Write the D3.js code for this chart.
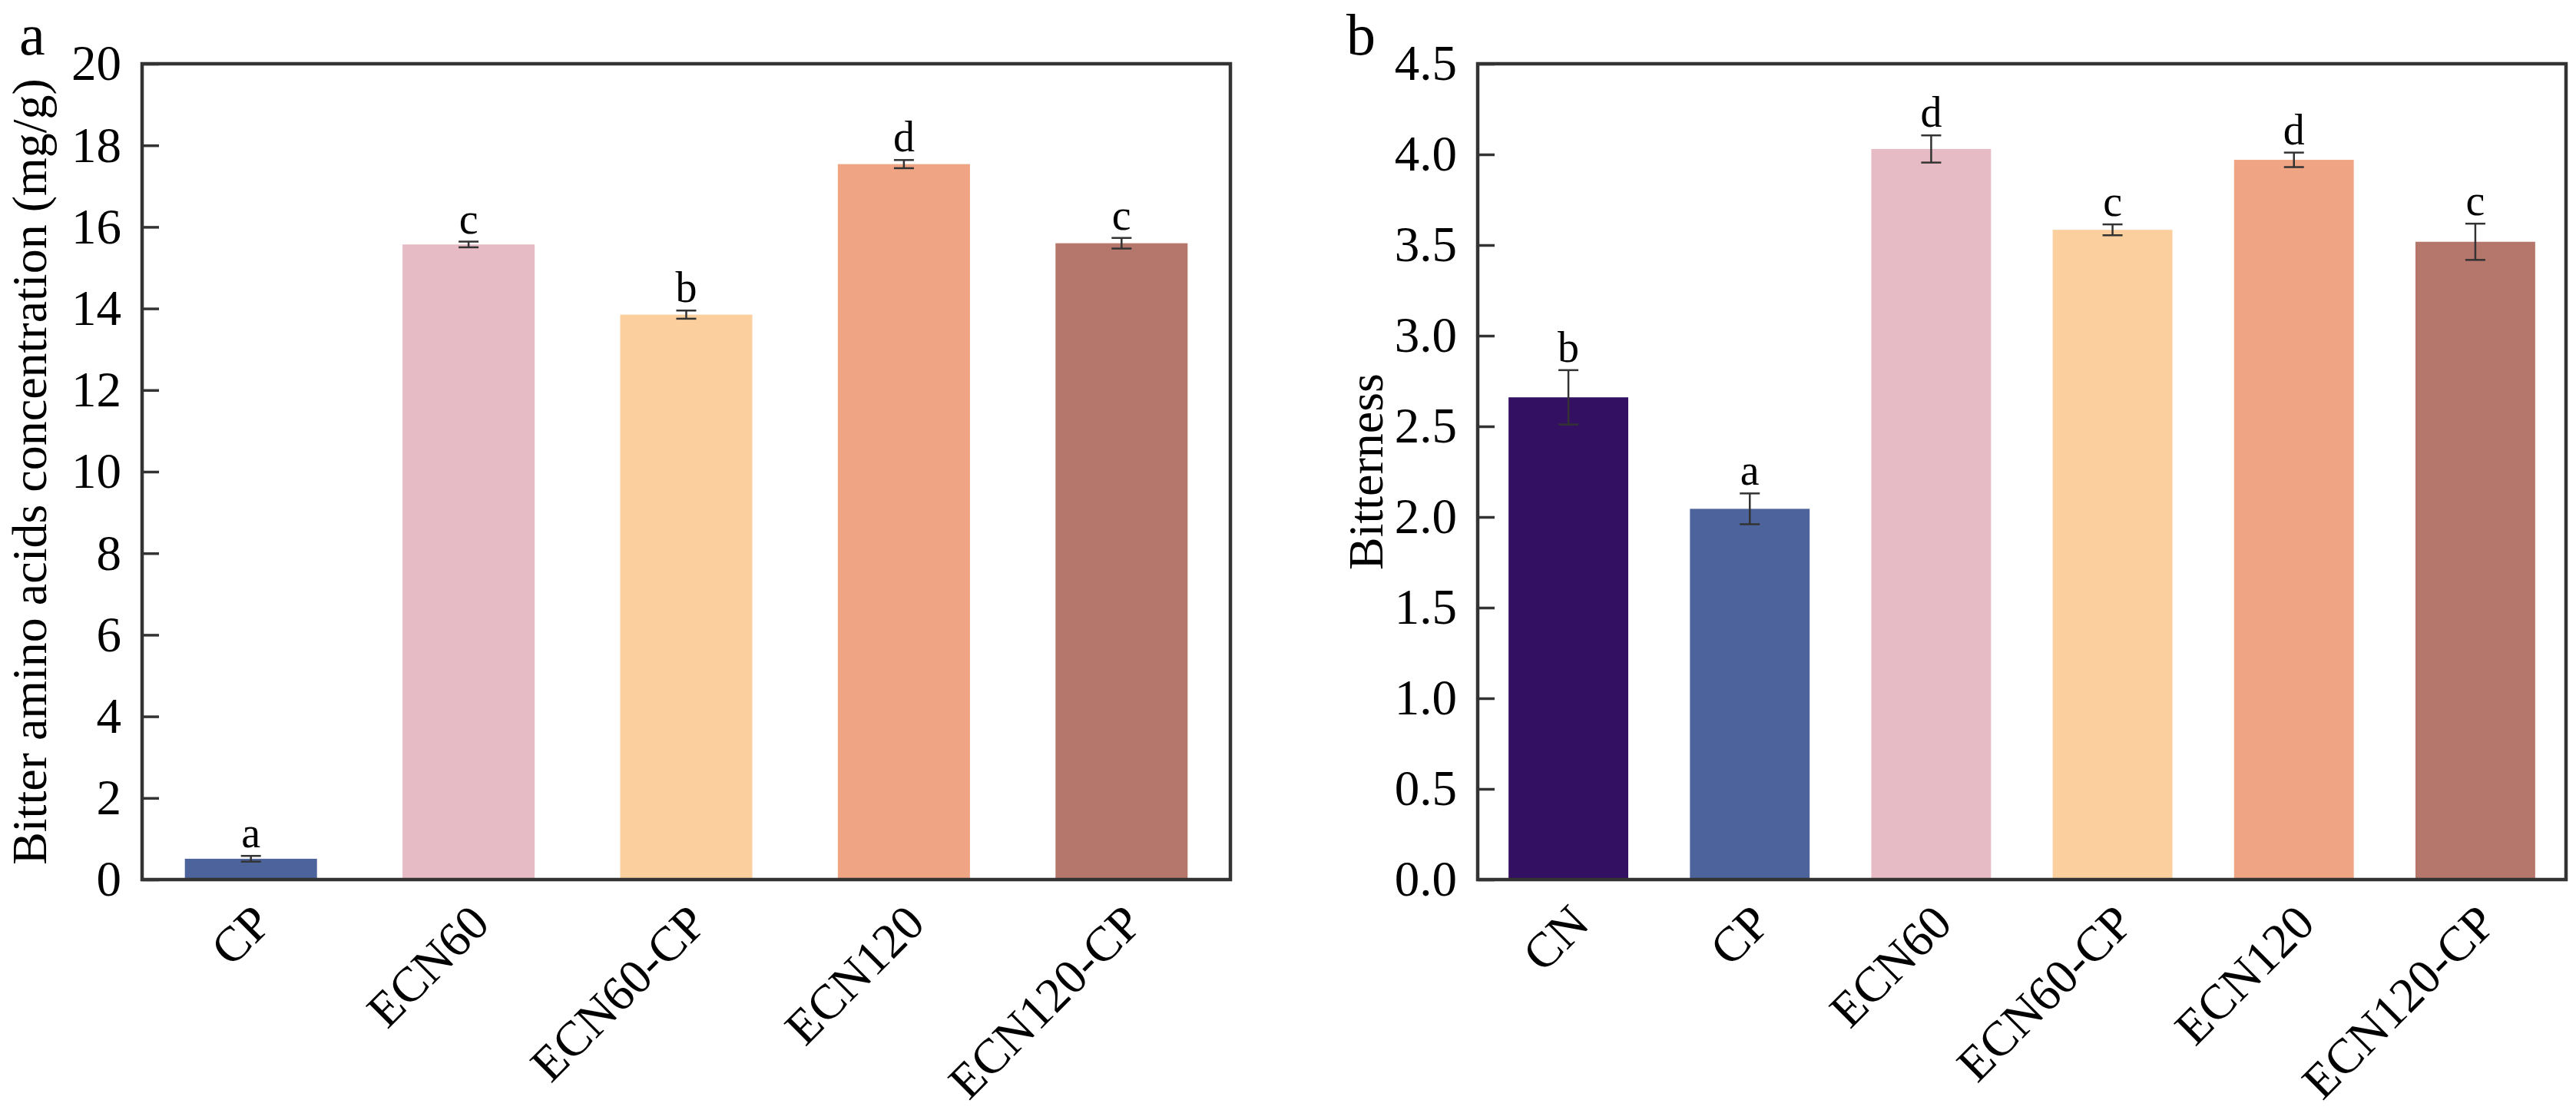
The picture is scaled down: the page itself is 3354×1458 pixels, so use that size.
<!DOCTYPE html>
<html>
<head>
<meta charset="utf-8">
<script src="https://cdn.jsdelivr.net/npm/d3@7"></script>
<style>
  body { margin: 0; background: #fff; }
  text { font-family: "Liberation Serif", "Times New Roman", serif; fill: #000; }
</style>
</head>
<body>
<div id="chart"></div>
<script>
// panel a - bitter amino acids
const groupsA = ["CP", "ECN60", "ECN60-CP", "ECN120", "ECN120-CP"];
const concA = [0.51, 15.57, 13.85, 17.54, 15.6];
const concErrA = [0.07, 0.07, 0.1, 0.1, 0.13];
const lettersA = ["a", "c", "b", "d", "c"];
const ticksA = [0, 2, 4, 6, 8, 10, 12, 14, 16, 18, 20];

// panel b - bitterness
const groupsB = ["CN", "CP", "ECN60", "ECN60-CP", "ECN120", "ECN120-CP"];
const bitterB = [2.66, 2.045, 4.03, 3.584, 3.97, 3.518];
const bitterErrB = [0.15, 0.085, 0.075, 0.03, 0.04, 0.1];
const lettersB = ["b", "a", "d", "c", "d", "c"];
const ticksB = [0, 0.5, 1.0, 1.5, 2.0, 2.5, 3.0, 3.5, 4.0, 4.5];

const palette = d3.scaleOrdinal()
    .domain(["CN", "CP", "ECN60", "ECN60-CP", "ECN120", "ECN120-CP"])
    .range(["#341063", "#4c639b", "#e7bbc5", "#fccf9e", "#efa584", "#b5766b"]);

const W = 3354, H = 1458;
const svg = d3.select("#chart").append("svg")
    .attr("width", W)
    .attr("height", H);

function drawPanel(cfg) {
    const g = svg.append("g")
        .attr("transform", `translate(${cfg.left}, ${cfg.top})`);
    const w = cfg.width, h = cfg.height;

    const x = d3.scaleBand()
        .domain(cfg.groups)
        .range([0, w])
        .paddingInner(cfg.pad)
        .paddingOuter(cfg.pad / 2);

    const y = d3.scaleLinear()
        .domain(cfg.domain)
        .range([h, 0]);

    const rows = cfg.groups.map((k, i) => ({
        key: k, v: cfg.values[i], e: cfg.errors[i], lab: cfg.letters[i]
    }));

    // bars
    g.selectAll("rect.bar")
        .data(rows)
        .enter().append("rect")
        .attr("class", "bar")
        .attr("x", d => x(d.key))
        .attr("width", x.bandwidth())
        .attr("y", d => y(d.v))
        .attr("height", d => h - y(d.v))
        .attr("fill", d => palette(d.key));

    // error bars
    const cap = 13;
    const eb = g.selectAll("g.err")
        .data(rows)
        .enter().append("g")
        .attr("class", "err")
        .attr("transform", d => `translate(${x(d.key) + x.bandwidth() / 2}, 0)`)
        .attr("stroke", "#333")
        .attr("stroke-width", 2.5);
    eb.append("line")
        .attr("y1", d => y(d.v + d.e))
        .attr("y2", d => y(d.v - d.e));
    eb.append("line")
        .attr("x1", -cap).attr("x2", cap)
        .attr("y1", d => y(d.v + d.e))
        .attr("y2", d => y(d.v + d.e));
    eb.append("line")
        .attr("x1", -cap).attr("x2", cap)
        .attr("y1", d => y(d.v - d.e))
        .attr("y2", d => y(d.v - d.e));

    // significance letters
    g.selectAll("text.sig")
        .data(rows)
        .enter().append("text")
        .attr("class", "sig")
        .attr("x", d => x(d.key) + x.bandwidth() / 2)
        .attr("y", d => y(d.v + d.e) - 11)
        .attr("text-anchor", "middle")
        .style("font-size", "56px")
        .text(d => d.lab);

    // y axis, ticks pointing inward
    const yAxis = g.append("g")
        .call(d3.axisLeft(y)
            .tickValues(cfg.ticks)
            .tickFormat(cfg.fmt)
            .tickSize(-22)
            .tickPadding(27));
    yAxis.select(".domain").remove();
    yAxis.selectAll(".tick line")
        .attr("stroke", "#333")
        .attr("stroke-width", 3.5);
    yAxis.selectAll(".tick text")
        .style("font-size", "65px")
        .attr("font-family", null);

    // x axis labels rotated
    const xAxis = g.append("g")
        .attr("transform", `translate(0, ${h})`)
        .call(d3.axisBottom(x).tickSize(0));
    xAxis.select(".domain").remove();
    xAxis.selectAll(".tick text")
        .attr("x", 0).attr("y", 0).attr("dy", null)
        .attr("text-anchor", "end")
        .attr("font-family", null)
        .attr("transform", "translate(30, 60) rotate(-45)")
        .style("font-size", "64px");

    // frame
    g.append("rect")
        .attr("width", w)
        .attr("height", h)
        .attr("fill", "none")
        .attr("stroke", "#333")
        .attr("stroke-width", 4.5);

    // y title
    g.append("text")
        .attr("transform", `translate(${cfg.titleX}, ${h / 2}) rotate(-90)`)
        .attr("text-anchor", "middle")
        .style("font-size", "64px")
        .text(cfg.title);

    // panel letter
    g.append("text")
        .attr("x", cfg.tagX)
        .attr("y", -12)
        .style("font-size", "76px")
        .text(cfg.tag);
}

drawPanel({
    left: 185, top: 83, width: 1417, height: 1062,
    groups: groupsA, values: concA, errors: concErrA, letters: lettersA,
    domain: [0, 20], ticks: ticksA, fmt: d3.format("d"), pad: 0.393,
    title: "Bitter amino acids concentration (mg/g)", titleX: -125,
    tag: "a", tagX: -160
});

drawPanel({
    left: 1924, top: 83, width: 1417, height: 1062,
    groups: groupsB, values: bitterB, errors: bitterErrB, letters: lettersB,
    domain: [0, 4.5], ticks: ticksB, fmt: d3.format(".1f"), pad: 0.34,
    title: "Bitterness", titleX: -124,
    tag: "b", tagX: -171
});
</script>
</body>
</html>
